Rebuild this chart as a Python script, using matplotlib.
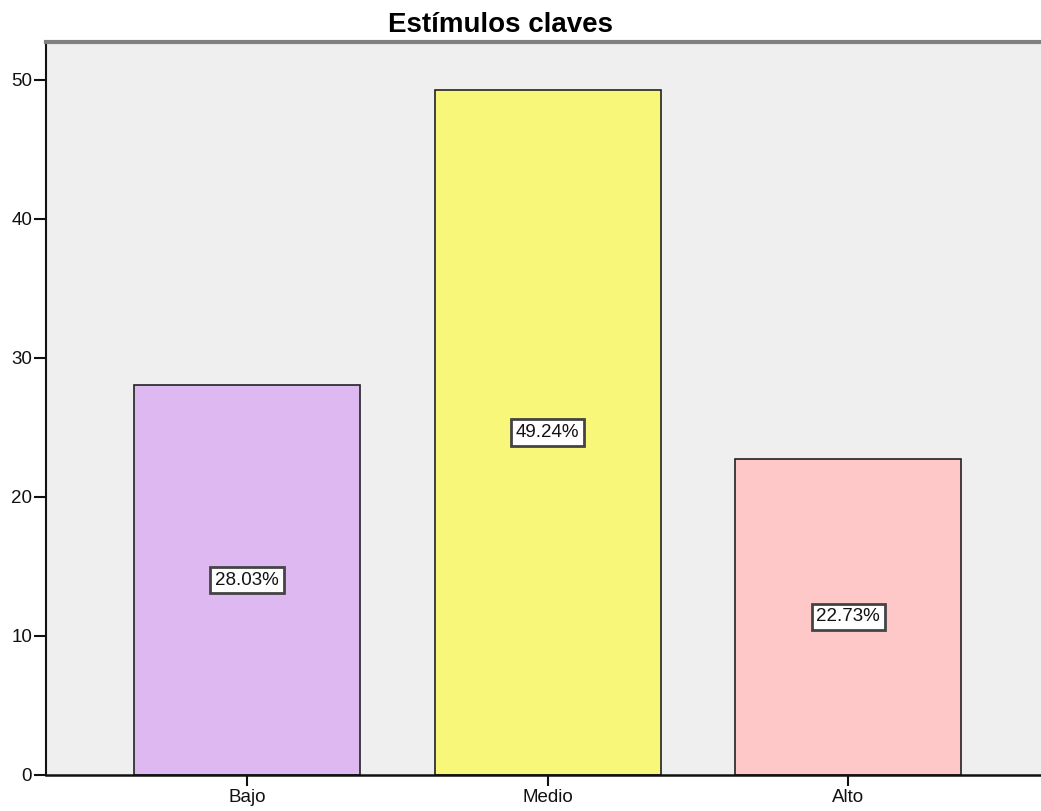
import matplotlib.pyplot as plt

categorias = ["Bajo", "Medio", "Alto"]
porcentajes = [28.03, 49.24, 22.73]
colores = ["#DDB8F1", "#F9F77A", "#FFC8C8"]

plt.rcParams['font.family'] = ['Liberation Sans', 'DejaVu Sans']

fig = plt.figure(figsize=(10.41, 8.11), dpi=100)
ax = fig.add_axes([0.0442, 0.0444, 0.9558, 0.9038])
ax.set_facecolor("#EFEFEF")

x = range(len(categorias))
ax.bar(x, porcentajes, width=0.752, color=colores, edgecolor="#222222", linewidth=1.2, zorder=2)

# etiqueta con el porcentaje a media altura de cada barra
for xi, v in zip(x, porcentajes):
    ax.text(xi, v / 2, f"{v:.2f}%", ha="center", va="center", fontsize=13.5, color="#111111",
            bbox=dict(boxstyle="square,pad=0.25", fc="white", ec="#444444", lw=2), zorder=3)

ax.set_xlim(-0.669, 2.642)
ax.set_ylim(0, 52.7)
ax.set_yticks([0, 10, 20, 30, 40, 50])
ax.set_xticks(list(x))
ax.set_xticklabels(categorias)

ax.spines['right'].set_visible(False)
ax.spines['top'].set_color("#808080")
ax.spines['top'].set_linewidth(3)
ax.spines['left'].set_linewidth(1.5)
ax.spines['bottom'].set_linewidth(1.8)
ax.spines['left'].set_color("#111111")
ax.spines['bottom'].set_color("#111111")
ax.tick_params(axis='y', length=9, width=1.5, labelsize=13.5, pad=1, colors="#111111")
ax.tick_params(axis='x', length=8, width=1.5, labelsize=13.5, pad=2, colors="#111111")

ax.set_title("Estímulos claves", fontsize=20, fontweight="bold", pad=7, x=0.457)

fig.savefig("out.png", dpi=100)
